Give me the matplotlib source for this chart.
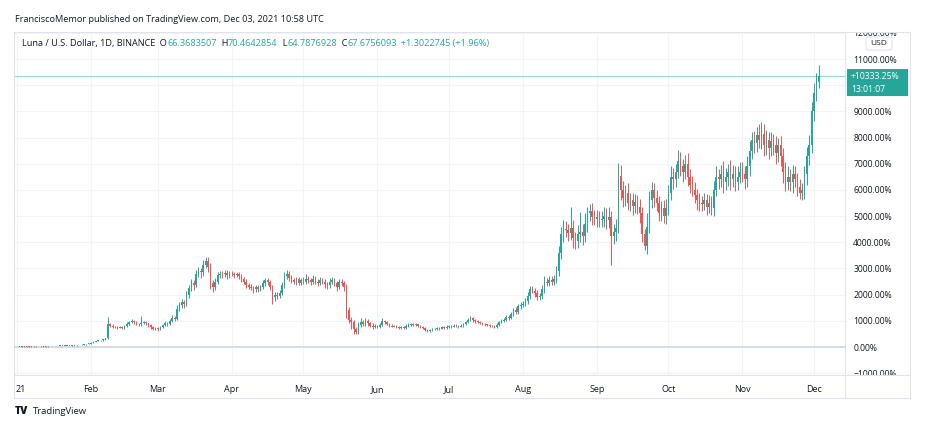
import numpy as np
import matplotlib
matplotlib.use("Agg")
import matplotlib.pyplot as plt
from matplotlib.patches import Rectangle, FancyBboxPatch
from matplotlib.lines import Line2D

# daily closes, % change from the first bar (LUNA/USD 1D, 2021)
close_jan = [0, 8, 15, 12, 20, 18, 25, 22, 30, 28, 20, 15, 22, 25, 30, 35, 32, 38, 42, 40,
             45, 50, 48, 55, 65, 75, 70, 85, 100, 115, 130]
close_feb = [170, 200, 230, 260, 250, 290, 330, 870, 820, 780, 760, 740, 760, 730, 790, 880,
             960, 1000, 940, 880, 860, 920, 950, 900, 830, 760, 700, 720]
close_mar = [680, 760, 830, 920, 880, 1000, 1120, 1080, 1450, 1600, 1700, 1650, 2000, 2250,
             2450, 2380, 2800, 2900, 2850, 3150, 3300, 3050, 2450, 2300, 2500, 2750, 2800,
             2780, 2820, 2750, 2800]
close_apr = [2780, 2750, 2800, 2700, 2600, 2500, 2350, 2300, 2250, 2200, 2280, 2200, 2300,
             2450, 2550, 2480, 2300, 1900, 2000, 1950, 2050, 2350, 2700, 2800, 2650, 2550,
             2500, 2580, 2450, 2550]
close_may = [2500, 2600, 2550, 2480, 2600, 2500, 2450, 2550, 2500, 2400, 2350, 2500, 2550,
             2450, 2300, 2500, 2450, 2300, 1400, 1050, 950, 700, 560, 850, 950, 880, 1000,
             900, 820, 780, 800]
close_jun = [760, 850, 1000, 950, 880, 820, 780, 800, 760, 720, 760, 720, 800, 850, 880, 840,
             860, 800, 760, 720, 660, 610, 660, 700, 680, 720, 700, 760, 740, 780]
close_jul = [800, 780, 820, 800, 780, 820, 880, 950, 1050, 1100, 1020, 980, 950, 920, 880, 860,
             840, 820, 800, 770, 850, 950, 1000, 1050, 1150, 1120, 1250, 1400, 1350, 1550, 1600]
close_aug = [1650, 1750, 1950, 2200, 2150, 2050, 1900, 1950, 2200, 2500, 2450, 2550, 2500,
             2600, 2900, 3600, 4300, 4500, 4450, 4350, 4550, 4150, 4050, 4300, 4400, 4250,
             4700, 5100, 5200, 4950, 4900]
close_sep = [4950, 4850, 4900, 5000, 4850, 4950, 4250, 4400, 4550, 6550, 6000, 5700, 5900,
             5500, 5600, 5400, 5550, 5350, 5100, 4300, 3850, 4600, 5600, 6000, 5700, 5500,
             5100, 5300, 5000, 5300]
close_oct = [5900, 6500, 6400, 6700, 7100, 6900, 6700, 7000, 6500, 6200, 6000, 5800, 5600,
             5500, 5450, 5600, 5350, 5500, 5300, 6000, 6500, 6400, 6600, 6300, 6500, 6700,
             6400, 6600, 6300, 6500, 6700]
close_nov = [6600, 6400, 6900, 7500, 7900, 7800, 8100, 7900, 8150, 7700, 7900, 7600, 7850,
             7700, 7400, 7700, 7300, 6700, 6300, 6500, 6300, 6600, 6400, 6100, 5900, 6000,
             6600, 7300, 7700, 9000]
close_dec = [9700, 10131.7, 10333.25]
first_open = -2

# upper / lower wick length beyond the body, in % points
up_jan = [4, 6, 5, 8, 6, 5, 7, 6, 8, 5, 6, 4, 6, 5, 7, 6, 5, 8, 6, 5, 7, 6, 5, 8, 10, 8, 9, 12, 10, 12, 15]
dn_jan = [3, 5, 4, 6, 5, 4, 6, 5, 4, 6, 8, 5, 4, 6, 5, 4, 6, 5, 4, 6, 5, 4, 6, 5, 6, 8, 10, 6, 8, 10, 12]
up_feb = [15, 12, 18, 15, 20, 18, 20, 280, 60, 40, 35, 30, 40, 30, 45, 60, 50, 70, 40, 35, 40, 250,
          40, 30, 35, 30, 40, 45]
dn_feb = [10, 12, 15, 12, 20, 15, 15, 30, 40, 50, 35, 40, 30, 45, 30, 40, 35, 40, 50, 45, 60, 40,
          50, 60, 50, 60, 50, 40]
up_mar = [40, 50, 60, 70, 50, 80, 90, 60, 150, 120, 130, 100, 150, 120, 160, 110, 150, 140, 120,
          160, 150, 130, 150, 120, 120, 130, 110, 100, 120, 110, 100]
dn_mar = [50, 40, 50, 40, 80, 50, 60, 90, 60, 80, 100, 150, 80, 120, 100, 200, 100, 120, 200, 120,
          150, 180, 250, 200, 120, 100, 130, 150, 120, 150, 110]
up_apr = [90, 100, 80, 70, 90, 80, 100, 80, 90, 80, 100, 90, 80, 120, 90, 80, 70, 80, 100, 90,
          120, 150, 160, 130, 100, 90, 100, 80, 90, 100]
dn_apr = [80, 100, 90, 120, 100, 110, 90, 100, 80, 120, 90, 100, 80, 90, 110, 100, 120, 250, 130,
          100, 90, 80, 100, 120, 110, 90, 100, 120, 100, 90]
up_may = [120, 200, 100, 90, 150, 100, 90, 120, 100, 90, 100, 130, 120, 100, 90, 110, 100, 90,
          100, 120, 100, 90, 80, 110, 150, 100, 90, 80, 70, 80, 70]
dn_may = [90, 100, 120, 100, 90, 110, 120, 100, 90, 150, 130, 100, 90, 110, 150, 100, 120, 150,
          300, 150, 250, 200, 80, 60, 80, 90, 70, 80, 70, 80, 60]
up_jun = [40, 60, 120, 50, 40, 35, 40, 50, 35, 30, 45, 40, 60, 50, 45, 40, 50, 35, 30, 35, 30, 25,
          40, 35, 30, 40, 35, 45, 40, 50]
dn_jun = [50, 40, 45, 60, 50, 40, 35, 30, 45, 40, 35, 40, 30, 35, 40, 50, 40, 45, 40, 35, 40, 45,
          30, 35, 40, 30, 45, 30, 40, 35]
up_jul = [40, 35, 45, 40, 35, 40, 50, 60, 70, 80, 60, 50, 40, 45, 35, 40, 35, 30, 35, 30, 50, 60,
          70, 60, 80, 70, 90, 100, 120, 110, 100]
dn_jul = [40, 45, 35, 40, 45, 35, 40, 35, 50, 45, 60, 50, 45, 40, 45, 40, 35, 40, 45, 50, 35, 40,
          50, 60, 50, 80, 60, 70, 100, 80, 90]
up_aug = [100, 120, 150, 130, 120, 100, 110, 120, 150, 200, 150, 170, 150, 160, 200, 250, 300, 350,
          300, 250, 800, 300, 250, 350, 750, 280, 400, 250, 250, 300, 280]
dn_aug = [80, 100, 90, 120, 100, 130, 120, 100, 120, 150, 130, 120, 150, 130, 150, 200, 250, 300,
          250, 300, 280, 350, 300, 250, 300, 350, 250, 300, 280, 300, 250]
up_sep = [300, 250, 280, 350, 300, 400, 250, 300, 350, 480, 400, 350, 300, 350, 300, 280, 300, 250,
          300, 250, 200, 500, 350, 300, 280, 300, 250, 280, 300, 350]
dn_sep = [300, 280, 250, 300, 350, 300, 1120, 300, 350, 200, 400, 350, 300, 250, 300, 350, 300,
          280, 350, 300, 150, 300, 250, 300, 350, 300, 280, 300, 250, 300]
up_oct = [300, 400, 350, 300, 420, 350, 300, 350, 400, 300, 350, 300, 250, 300, 250, 300, 250, 300,
          250, 350, 400, 300, 350, 500, 350, 300, 450, 350, 300, 400, 350]
dn_oct = [250, 300, 350, 300, 250, 350, 400, 300, 350, 300, 250, 300, 350, 300, 250, 200, 300, 250,
          250, 300, 250, 350, 300, 400, 300, 350, 400, 300, 350, 300, 250]
up_nov = [350, 300, 400, 350, 300, 350, 300, 400, 450, 350, 400, 300, 350, 300, 350, 300, 350, 300,
          350, 400, 300, 350, 300, 250, 300, 250, 300, 350, 400, 350]
dn_nov = [300, 350, 300, 350, 300, 400, 350, 300, 350, 400, 350, 400, 300, 350, 400, 350, 400, 450,
          350, 300, 350, 400, 300, 350, 250, 300, 350, 400, 350, 300]
up_dec = [400, 350, 430]
dn_dec = [350, 300, 244]

month_starts = [0, 31, 59, 90, 120, 151, 181, 212, 243, 273, 304, 334]
month_labels = ["21", "Feb", "Mar", "Apr", "May", "Jun", "Jul", "Aug", "Sep", "Oct", "Nov", "Dec"]
y_ticks = list(range(-1000, 12001, 1000))
hidden_tick = 10000  # sits under the last-price badge

title = "FranciscoMemor published on TradingView.com, Dec 03, 2021 10:58 UTC"
header = [("Luna / U.S. Dollar, 1D, BINANCE", "dark"), ("  O", "dark"), ("66.3683507", "teal"),
          ("  H", "dark"), ("70.4642854", "teal"), ("  L", "dark"), ("64.7876928", "teal"),
          ("  C", "dark"), ("67.6756093", "teal"), ("  +1.3022745 (+1.96%)", "teal")]
last_label = "+10333.25%"
countdown = "13:01:07"

close = np.array(close_jan + close_feb + close_mar + close_apr + close_may + close_jun +
                 close_jul + close_aug + close_sep + close_oct + close_nov + close_dec, float)
up = np.array(up_jan + up_feb + up_mar + up_apr + up_may + up_jun + up_jul + up_aug +
              up_sep + up_oct + up_nov + up_dec, float)
dn = np.array(dn_jan + dn_feb + dn_mar + dn_apr + dn_may + dn_jun + dn_jul + dn_aug +
              dn_sep + dn_oct + dn_nov + dn_dec, float)
days = np.arange(len(close))
opens = np.concatenate([[first_open], close[:-1]])
top = np.maximum(opens, close)
bot = np.minimum(opens, close)
high = top + up
low = bot - dn

GREEN = "#26a69a"
RED = "#ef5350"
DARK = "#131722"
LINE = "#e0e3eb"
cols = np.where(close >= opens, GREEN, RED)

plt.rcParams["font.family"] = ["Open Sans", "DejaVu Sans"]

W, H = 933, 440
fig = plt.figure(figsize=(W / 100, H / 100), dpi=100)
fig.patch.set_facecolor("white")


def fx(px):
    return px / W


def fy(py):
    return 1 - py / H


L, R, T, B = 14, 845, 32, 375
ax = fig.add_axes([fx(L), fy(B), fx(R) - fx(L), fy(T) - fy(B)])
ax.set_xlim(-1.3, 347.0)
ax.set_ylim(-1069.5, 12032)
for s in ax.spines.values():
    s.set_visible(False)

for v in y_ticks:
    ax.axhline(v, color="#f2f4f8", lw=0.8, zorder=0)
for d in month_starts:
    ax.axvline(d, color="#f2f4f8", lw=0.8, zorder=0)
ax.axhline(0, color="#d5d8df", lw=1.3, zorder=1)
ax.axhline(close[-1], color="#9fd8d1", lw=0.8, zorder=1)

ax.vlines(days, low, high, colors=cols, lw=0.7, zorder=2)
body = np.maximum(top - bot, 20)
ax.bar(days, body, bottom=bot, width=0.62, color=cols, linewidth=0, zorder=3)

ax.set_xticks([1.7] + month_starts[1:])
ax.set_xticklabels(month_labels, fontsize=6.5, color=DARK)
ax.set_yticks(y_ticks)
ax.set_yticklabels(["" if v == hidden_tick else f"{v:.2f}%".replace("-", "\u2212") for v in y_ticks],
                   fontsize=6.2, color=DARK)
ax.yaxis.tick_right()
ax.tick_params(axis="x", length=0, pad=7)
ax.tick_params(axis="y", length=0, pad=6)
for lab in ax.get_yticklabels():
    lab.set_horizontalalignment("left")

# clip price-scale labels to the chart rows
fig.patches.append(Rectangle((fx(846), fy(31.6)), fx(909) - fx(846), fy(0) - fy(31.6),
                             transform=fig.transFigure, facecolor="white", edgecolor="none", zorder=1))
fig.patches.append(Rectangle((fx(846), fy(397.5)), fx(909) - fx(846), fy(375.5) - fy(397.5),
                             transform=fig.transFigure, facecolor="white", edgecolor="none", zorder=1))

# frame
frame = [((L, T), (910, T)), ((L, T), (L, 398)), ((910, T), (910, 398)), ((L, 398), (910, 398)),
         ((R, T), (R, 398)), ((L, B), (910, B))]
for (x0, y0), (x1, y1) in frame:
    fig.lines.append(Line2D([fx(x0), fx(x1)], [fy(y0), fy(y1)], transform=fig.transFigure,
                            color=LINE, lw=0.8, zorder=2))

# USD badge
fig.patches.append(FancyBboxPatch((fx(866), fy(50)), fx(892) - fx(866), fy(37) - fy(50),
                                  boxstyle="round,pad=0,rounding_size=0.004", transform=fig.transFigure,
                                  facecolor="white", edgecolor=LINE, lw=0.8, zorder=1))
fig.text(fx(879), fy(43.5), "USD", fontsize=6, color=DARK, ha="center", va="center", zorder=3)

# last price badge
fig.patches.append(Rectangle((fx(847), fy(96)), fx(908) - fx(847), fy(69.5) - fy(96),
                             transform=fig.transFigure, facecolor=GREEN, edgecolor="none", zorder=1))
fig.text(fx(851), fy(76.5), last_label, fontsize=6.2, color="white", ha="left", va="center", zorder=3)
fig.text(fx(851), fy(89.5), countdown, fontsize=6.2, color="white", ha="left", va="center", zorder=3)

fig.text(fx(15), fy(20), title, fontsize=6.55, color=DARK, ha="left", va="center")

renderer = fig.canvas.get_renderer()
x = 22
for txt, c in header:
    t = fig.text(fx(x), fy(43.5), txt, fontsize=6.55, color=DARK if c == "dark" else GREEN,
                 ha="left", va="center")
    x += t.get_window_extent(renderer).width

fig.text(fx(15), fy(411), "TV", fontsize=7.5, fontweight="heavy", color=DARK, ha="left", va="center")
fig.text(fx(33), fy(411), "TradingView", fontsize=6.8, color=DARK, ha="left", va="center")

fig.savefig("out.png", dpi=100, facecolor="white")
